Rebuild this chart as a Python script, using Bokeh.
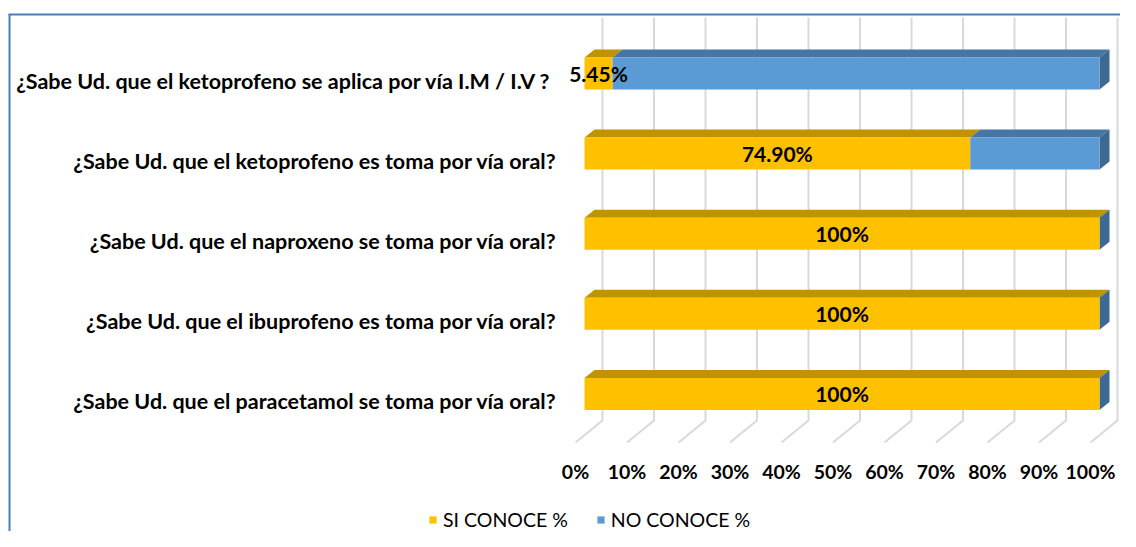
from bokeh.plotting import figure
from bokeh.models import Range1d, Legend, LegendItem
from bokeh.core.properties import value
from bokeh.embed import file_html
from bokeh.resources import INLINE

# ---------------- data ----------------
questions = [
    "¿Sabe Ud. que el ketoprofeno se aplica por vía  I.M / I.V ?",
    "¿Sabe Ud. que el ketoprofeno es toma por vía oral?",
    "¿Sabe Ud. que el naproxeno se toma por vía oral?",
    "¿Sabe Ud. que el ibuprofeno es toma por vía oral?",
    "¿Sabe Ud. que el paracetamol se toma por vía oral?",
]
si_conoce = [5.45, 74.90, 100, 100, 100]
no_conoce = [94.55, 25.10, 0, 0, 0]
si_labels = ["5.45%", "74.90%", "100%", "100%", "100%"]
ticks = [0, 10, 20, 30, 40, 50, 60, 70, 80, 90, 100]
tick_labels = ["0%", "10%", "20%", "30%", "40%", "50%", "60%", "70%", "80%", "90%", "100%"]
series_names = ["SI CONOCE %", "NO CONOCE %"]

# ---------------- geometry / style ----------------
W, H = 1120, 531
SX = 5.15          # px per percent
X0 = 584           # canvas px of 0 %
SY = 80.1          # px per row
TOP_ROW_PX = 73    # canvas px (from top) of first row centre
n = len(questions)
rows = [n - 1 - i for i in range(n)]

x_start = -X0 / SX
x_end = x_start + W / SX
y_end = (n - 1) + TOP_ROW_PX / SY
y_start = y_end - H / SY

def dx(px):
    return px / SX

def dy(px):
    return px / SY

def ycan(px):
    return y_end - px / SY

BAR_H = dy(32)
DEP_X, DEP_Y = dx(10), dy(8)

YEL, YEL_TOP = "#FFC000", "#C29300"
BLU, BLU_TOP, BLU_SIDE = "#5B9BD5", "#4676A6", "#3D6A93"
GRID = "#D9D9D9"
FONT = "Lato"

p = figure(width=W, height=H, x_range=Range1d(x_start, x_end), y_range=Range1d(y_start, y_end),
           x_axis_type=None, y_axis_type=None, output_backend="svg", toolbar_location=None,
           min_border=0)
p.outline_line_color = None
p.background_fill_color = "white"
p.border_fill_color = "white"

# chart-area border (top and left visible)
p.line([x_start + dx(8), x_end], [ycan(14), ycan(14)], line_color="#4A7EBB", line_width=2)
p.line([x_start + dx(9), x_start + dx(9)], [y_start, ycan(14)], line_color="#4A7EBB", line_width=2)

# 3D gridlines (back wall + floor)
gx, gy = [], []
for t in ticks:
    gx.append([t + dx(18), t + dx(18), t - dx(9)])
    gy.append([ycan(17), ycan(420), ycan(442)])
p.multi_line(gx, gy, line_color=GRID, line_width=2)

# top faces and side faces
tx_y, ty_y, tx_b, ty_b, sx_, sy_ = [], [], [], [], [], []
for r, s, no in zip(rows, si_conoce, no_conoce):
    yt, yb = r + BAR_H / 2, r - BAR_H / 2
    tx_y.append([0, s, s + DEP_X, DEP_X])
    ty_y.append([yt, yt, yt + DEP_Y, yt + DEP_Y])
    e = s + no
    tx_b.append([s, e, e + DEP_X, s + DEP_X])
    ty_b.append([yt, yt, yt + DEP_Y, yt + DEP_Y])
    sx_.append([e, e + DEP_X, e + DEP_X, e])
    sy_.append([yb, yb + DEP_Y, yt + DEP_Y, yt])

p.patches(tx_y, ty_y, fill_color=YEL_TOP, line_color=None)
p.patches(tx_b, ty_b, fill_color=BLU_TOP, line_color=None)
p.patches(sx_, sy_, fill_color=BLU_SIDE, line_color=None)

# front faces
totals = [a + b for a, b in zip(si_conoce, no_conoce)]
r_si = p.hbar(y=rows, left=0, right=si_conoce, height=BAR_H, fill_color=YEL, line_color=None)
r_no = p.hbar(y=rows, left=si_conoce, right=totals, height=BAR_H, fill_color=BLU, line_color=None)

# value labels
p.text(x=[s / 2 for s in si_conoce], y=rows, text=si_labels, text_align="center",
       text_baseline="middle", text_font=value(FONT), text_font_style="bold",
       text_font_size="21px", text_color="#000000")

# category labels
p.text(x=[0] * n, y=rows, text=questions, x_offset=-28, y_offset=7, text_align="right",
       text_baseline="middle", text_font=value(FONT), text_font_style="bold",
       text_font_size="21.5px", text_color="#000000")

# tick labels
p.text(x=ticks, y=[ycan(471)] * len(ticks), text=tick_labels, x_offset=-9, text_align="center",
       text_baseline="middle", text_font=value(FONT), text_font_style="bold",
       text_font_size="19.5px", text_color="#000000")

legend = Legend(items=[LegendItem(label=series_names[0], renderers=[r_si]),
                       LegendItem(label=series_names[1], renderers=[r_no])],
                location=(428, 0), orientation="horizontal", glyph_width=9, glyph_height=9,
                label_standoff=6, spacing=28, padding=0, margin=0,
                border_line_alpha=0, background_fill_alpha=0,
                label_text_font=FONT, label_text_font_size="19.5px", label_text_color="#000000")
p.add_layout(legend)

open("out.html", "w").write(file_html(p, INLINE))
